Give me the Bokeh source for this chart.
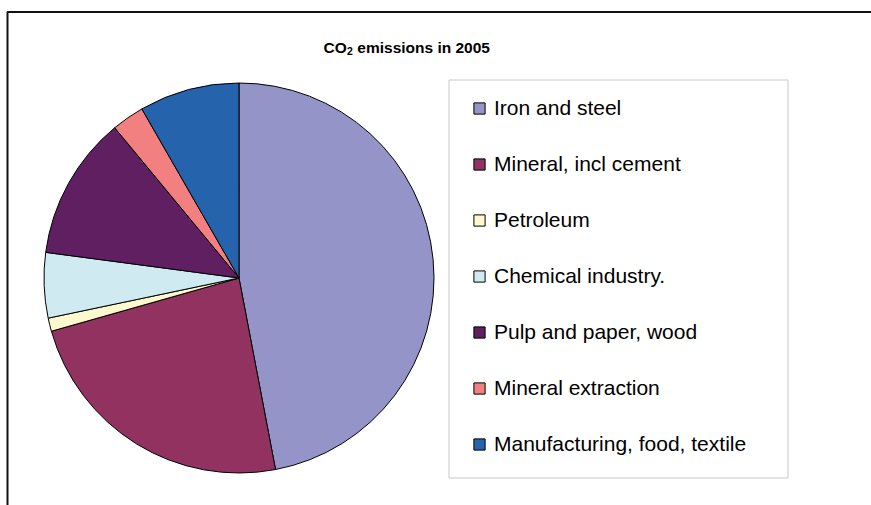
import math
from bokeh.plotting import figure
from bokeh.models import (ColumnDataSource, Range1d, Legend, LegendItem,
                          BoxAnnotation, Label)
from bokeh.embed import file_html
from bokeh.resources import INLINE

# ---- data ----
sectors = ["Iron and steel", "Mineral, incl cement", "Petroleum",
           "Chemical industry.", "Pulp and paper, wood",
           "Mineral extraction", "Manufacturing, food, textile"]
shares = [47.0, 23.6, 1.1, 5.4, 11.9, 2.7, 8.3]
colors = ["#9494C8", "#923260", "#FDF9CF", "#CFEAF0", "#601F60",
          "#F28080", "#2563AD"]
title_parts = ["CO", "2", "emissions in 2005"]   # "CO₂ emissions in 2005"

# ---- layout ----
W, H = 871, 505
cx, cy, R = 238.5, H - 277.5, 195

total = sum(shares)
starts, ends = [], []
acc = 0.0
for s in shares:
    starts.append(math.pi / 2 - acc / total * 2 * math.pi)
    acc += s
    ends.append(math.pi / 2 - acc / total * 2 * math.pi)

src = ColumnDataSource(dict(sector=sectors, share=shares, color=colors,
                            start=starts, end=ends,
                            x=[cx] * len(shares), y=[cy] * len(shares)))

p = figure(width=W, height=H, output_backend="svg", toolbar_location=None,
           x_range=Range1d(0, W), y_range=Range1d(0, H),
           min_border=0, min_border_left=0, min_border_right=0,
           min_border_top=0, min_border_bottom=0)
p.xaxis.visible = False
p.yaxis.visible = False
p.grid.visible = False
p.outline_line_color = None
p.background_fill_color = "white"
p.border_fill_color = "white"

# outer chart frame (only top/left visible in window)
p.add_layout(BoxAnnotation(left=7, right=W + 200, top=H - 11.5, bottom=-200,
                           fill_alpha=0, line_alpha=1, line_color="#111111",
                           line_width=2))

r = p.wedge(x="x", y="y", radius=R, start_angle="start", end_angle="end",
            direction="clock", fill_color="color", line_color="black",
            line_width=1, source=src)

# legend frame
p.add_layout(BoxAnnotation(left=448.5, right=787.5, top=H - 79.5, bottom=H - 477.5,
                           fill_alpha=0, line_alpha=1, line_color="#C8C8C8",
                           line_width=1))

items = [LegendItem(label=s, renderers=[r], index=i) for i, s in enumerate(sectors)]
legend = Legend(items=items, location=(472, 49), padding=0, margin=0,
                spacing=32, glyph_width=14, glyph_height=14, label_height=24,
                label_standoff=8, label_text_font="Liberation Sans",
                label_text_font_size="21px", label_text_color="black",
                border_line_alpha=0, background_fill_alpha=0)
p.add_layout(legend)

# title with subscript: "CO" + lowered small "2" + rest
tx, ty = 323, H - 47
common = dict(text_baseline="alphabetic", text_align="left",
              text_font="Liberation Sans", text_font_style="bold",
              text_color="black")
p.add_layout(Label(x=tx, y=ty, text=title_parts[0], text_font_size="15.5px", **common))
p.add_layout(Label(x=tx + 23.5, y=ty - 3.5, text=title_parts[1],
                   text_font_size="10.5px", **common))
p.add_layout(Label(x=tx + 33.8, y=ty, text=title_parts[2], text_font_size="15.5px", **common))

open("out.html", "w").write(file_html(p, INLINE))
